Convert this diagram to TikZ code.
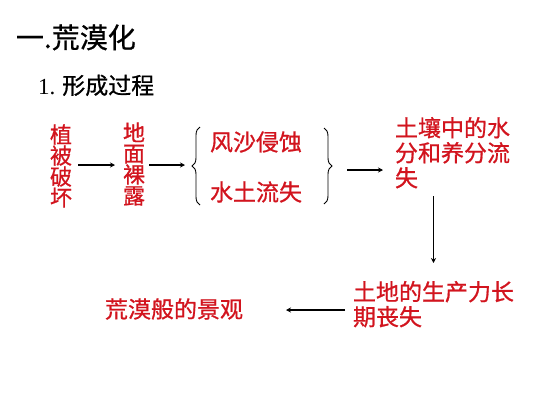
\documentclass[tikz,border=0pt]{standalone}
\usepackage{fontspec}
\setmainfont{Liberation Serif}
\newfontfamily\cjk[FakeBold=0.8]{Noto Sans CJK SC}
\usetikzlibrary{arrows.meta,decorations.pathreplacing,calc}
\definecolor{txtred}{RGB}{210,20,30}
\tikzset{
  redtext/.style={text=txtred, font=\cjk\fontsize{23}{25}\selectfont, align=left},
  vertred/.style={text=txtred, font=\cjk\fontsize{22}{21}\selectfont, align=center},
  arr/.style={draw=black, line width=1.2pt, -{Stealth[length=5pt,width=5pt]}},
  bracestyle/.style={draw=black, line width=0.9pt, decorate, decoration={brace, amplitude=8pt}},
}
\begin{document}
\begin{tikzpicture}[x=1pt,y=-1pt, every node/.style={inner sep=0pt, outer sep=0pt}]
\useasboundingbox[fill=white] (0,0) rectangle (533,400);
% headings
\node[anchor=base west, font=\cjk\fontsize{28}{30}\selectfont] (title) at (16,48) {一.荒漠化};
\node[anchor=base west, font=\fontsize{23}{25}\selectfont] (sub) at (38,94) {1.\hspace{7pt}{\cjk 形成过程}};
% vertical stacks
\node[vertred] (veg) at (61,166) {植\\被\\破\\坏};
\node[vertred] (bare) at (134,164) {地\\面\\裸\\露};
% brace items
\node[redtext, anchor=west] (wind) at (210,142) {风沙侵蚀};
\node[redtext, anchor=west] (water) at (210,192) {水土流失};
\coordinate (bl) at (191,167);
\coordinate (br) at (333,168);
\draw[bracestyle] (200,205) -- (200,127);
\draw[bracestyle] (324,128) -- (324,204);
% soil
\node[redtext, anchor=north west] (soil) at (395,117) {土壤中的水\\分和养分流\\失};
% land
\node[redtext, anchor=north west] (land) at (353,281) {土地的生产力长\\期丧失};
% scene
\node[redtext, anchor=west] (scene) at (105,309) {荒漠般的景观};
% arrows
\draw[arr] ([xshift=6pt]veg.east |- 0,165) -- ([xshift=-8pt]bare.west |- 0,165);
\draw[arr] ([xshift=4pt]bare.east |- 0,165) -- ([xshift=-6pt]bl |- 0,165);
\draw[arr] ([xshift=14pt]br |- 0,170) -- ([xshift=-12pt]soil.west |- 0,170);
\draw[arr] ([yshift=-8pt]soil.south -| land.north) -- ([yshift=18pt]land.north);
\draw[arr] ([xshift=-8pt]land.west |- 0,310) -- ([xshift=43pt]scene.east |- 0,310);
\end{tikzpicture}
\end{document}
